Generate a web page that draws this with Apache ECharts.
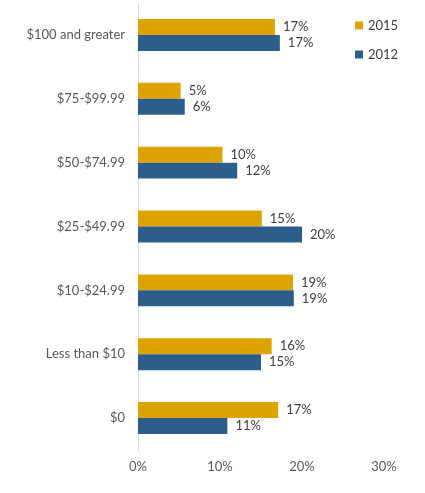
<!DOCTYPE html>
<html>
<head>
<meta charset="utf-8">
<script src="https://cdn.jsdelivr.net/npm/echarts@6/dist/echarts.min.js"></script>
<style>
html, body { margin: 0; padding: 0; background: #fff; }
#chart { width: 425px; height: 493px; }
</style>
</head>
<body>
<div id="chart"></div>
<script>
var categories = ['$100 and greater', '$75-$99.99', '$50-$74.99', '$25-$49.99', '$10-$24.99', 'Less than $10', '$0'];
var values2015 = [16.7, 5.2, 10.3, 15.1, 18.9, 16.3, 17.1];
var values2012 = [17.3, 5.7, 12.1, 20.0, 19.0, 15.0, 10.9];
var xTicks = [0, 10, 20, 30];

var myChart = echarts.init(document.getElementById('chart'));

var labelStyle = {
    show: true,
    position: 'right',
    distance: 8,
    color: '#404040',
    fontSize: 13,
    fontFamily: 'Lato',
    formatter: function (p) {
        return Math.round(p.value) + '%';
    }
};

var option = {
    animation: false,
    backgroundColor: '#fff',
    textStyle: { fontFamily: 'Lato' },
    grid: {
        left: 138,
        right: 41,
        top: 3,
        bottom: 43,
        containLabel: false
    },
    legend: {
        data: ['2015', '2012'],
        orient: 'vertical',
        left: 350,
        top: 14,
        itemWidth: 8,
        itemHeight: 8,
        itemGap: 16,
        icon: 'rect',
        textStyle: { color: '#404040', fontSize: 13, fontFamily: 'Lato' }
    },
    xAxis: {
        type: 'value',
        min: xTicks[0],
        max: xTicks[xTicks.length - 1],
        interval: 10,
        splitLine: { show: false },
        axisLine: { show: false },
        axisTick: { show: false },
        axisLabel: {
            color: '#595959',
            fontSize: 13,
            margin: 10,
            formatter: '{value}%'
        }
    },
    yAxis: {
        type: 'category',
        data: categories,
        inverse: true,
        axisLine: { show: true, lineStyle: { color: '#d9d9d9', width: 1 } },
        axisTick: { show: false },
        axisLabel: { color: '#595959', fontSize: 13, margin: 13 }
    },
    series: [
        {
            name: '2015',
            type: 'bar',
            data: values2015,
            barGap: 0,
            barCategoryGap: '50%',
            itemStyle: { color: '#DDA400' },
            label: labelStyle
        },
        {
            name: '2012',
            type: 'bar',
            data: values2012,
            barGap: 0,
            barCategoryGap: '50%',
            itemStyle: { color: '#2D5E8B' },
            label: labelStyle
        }
    ]
};

myChart.setOption(option);
</script>
</body>
</html>
